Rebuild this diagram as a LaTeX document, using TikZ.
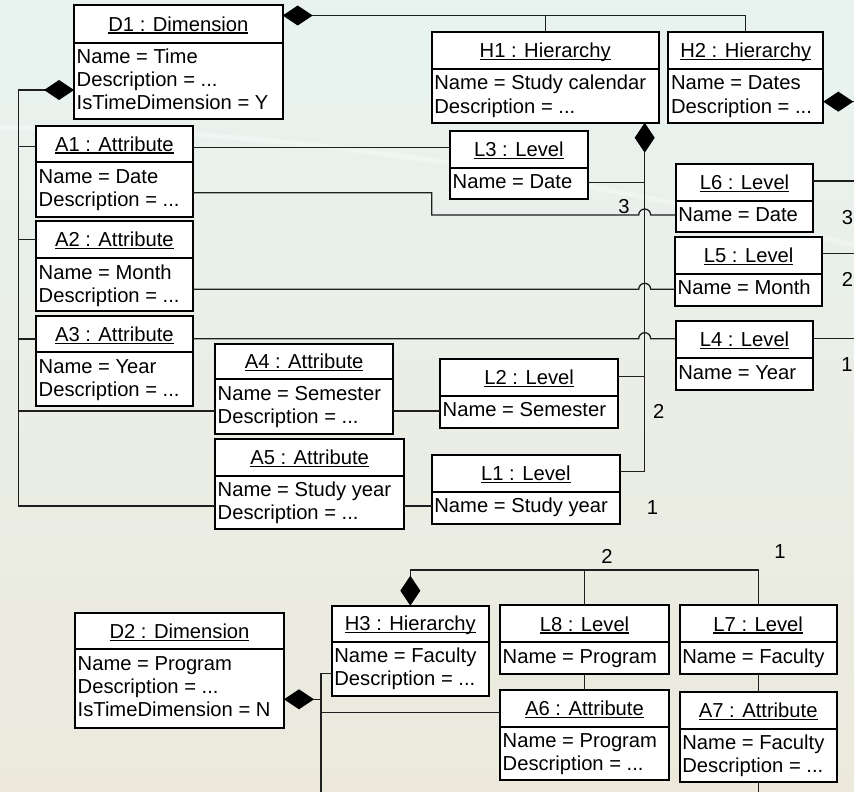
\documentclass[tikz,border=0pt]{standalone}
\usepackage{fontspec}
\setmainfont{Liberation Sans}
\usetikzlibrary{fit,arrows.meta}

\definecolor{bgtop}{RGB}{232,243,240}
\definecolor{bgmid}{RGB}{245,246,241}
\definecolor{bgbot}{RGB}{236,233,220}

% underlined object name (instance : Class)
\newsavebox\namebox
\newcommand\objname[1]{\sbox\namebox{#1}\rlap{\rule[-2.5pt]{\wd\namebox}{1.4pt}}\usebox\namebox}
% placeholder value
\newcommand\etc{...}

% UML object box: #1 name, #2 left, #3 top, #4 right, #5 divider, #6 bottom, #7 title, #8 attribute lines
\newcommand\objbox[8]{%
  \node[objframe, fit={(#2,#3) (#4,#6)}] (#1) {};
  \draw[objrule] (#2,#5) -- (#4,#5);
  \node[objtitle] at ({(#2+#4)/2},{(#3+#5)/2+7.2}) {\objname{#7}};
  \foreach \txt [count=\k] in {#8}
    \node[objattr] at ({#2+2.5},{#5+20.7+(\k-1)*23.3}) {\txt};
}

\tikzset{
  objframe/.style={draw=black, fill=white, line width=2pt, inner sep=0pt, outer sep=0pt},
  objrule/.style={draw=black, line width=2pt},
  objtitle/.style={anchor=base, inner sep=0pt},
  objattr/.style={anchor=base west, inner sep=0pt},
  link/.style={draw=black!88, line width=1.3pt},
  owner/.style={link, {Diamond[length=30pt,width=20pt,color=black]}-},
  ordinal/.style={anchor=base, inner sep=0pt},
}

\begin{document}
\begin{tikzpicture}[x=1pt, y=-1pt, font=\fontsize{20.2}{24}\selectfont]
\useasboundingbox (0,0) rectangle (854,792);
\clip (0,0) rectangle (854,792);

% background
\shade[top color=bgtop, middle color=bgmid, bottom color=bgbot] (0,0) rectangle (854,792);
\draw[white, line width=5pt, opacity=0.3] (0,128) .. controls (220,126) and (520,160) .. (854,245);

% ---- Time dimension ----
\objbox{D1}{74}{5}{282.7}{42.7}{119}{D1 : Dimension}{{Name = Time},{Description = \etc},{IsTimeDimension = Y}}
\objbox{A1}{36}{125.7}{192.7}{162.3}{216.7}{A1 : Attribute}{{Name = Date},{Description = \etc}}
\objbox{A2}{36}{220.7}{192.7}{258.3}{311}{A2 : Attribute}{{Name = Month},{Description = \etc}}
\objbox{A3}{36}{316.3}{192.7}{352.3}{406.3}{A3 : Attribute}{{Name = Year},{Description = \etc}}
\objbox{A4}{215}{343.7}{393.3}{379.3}{433.7}{A4 : Attribute}{{Name = Semester},{Description = \etc}}
\objbox{A5}{215}{438.7}{404.3}{475.7}{528.7}{A5 : Attribute}{{Name = Study year},{Description = \etc}}
\objbox{H1}{431.7}{32.3}{658.7}{69}{122.7}{H1 : Hierarchy}{{Name = Study calendar},{Description = \etc}}
\objbox{H2}{668.3}{32.3}{823.3}{69}{122.7}{H2 : Hierarchy}{{Name = Dates},{Description = \etc}}
\objbox{L3}{450}{130.7}{587.7}{167.7}{199.3}{L3 : Level}{{Name = Date}}
\objbox{L6}{675.7}{163.7}{813.3}{200.7}{232.3}{L6 : Level}{{Name = Date}}
\objbox{L5}{675}{237.3}{822.3}{274}{306}{L5 : Level}{{Name = Month}}
\objbox{L4}{675.7}{321}{813.3}{358.3}{390}{L4 : Level}{{Name = Year}}
\objbox{L2}{440}{359.3}{618.3}{396}{428.3}{L2 : Level}{{Name = Semester}}
\objbox{L1}{431.7}{455}{620}{491.7}{524}{L1 : Level}{{Name = Study year}}

% dimension owns hierarchies
\draw[owner] (D1.east |- 0,15.5) -- (H2.north |- 0,15.5) -- (H2.north);
\draw[link] (H1.north |- 0,15.5) -- (H1.north);

% dimension owns attributes
\draw[owner] (D1.west |- 0,90) -- (18.3,90) -- (18.3,506) -- (A5.west |- 0,506);
\foreach \a/\y in {A1/146.7, A2/239.3, A3/339, A4/411}
  \draw[link] (18.3,\y) -- (\a.west |- 0,\y);

% hierarchy H1 owns levels
\draw[owner] (644.7,0 |- H1.south) -- (644.7,471.7) -- (L1.east |- 0,471.7);
\draw[link] (L3.east |- 0,182.3) -- (644.7,182.3);
\draw[link] (L2.east |- 0,376.7) -- (644.7,376.7);

% attributes to levels
\draw[link] (A1.east |- 0,147.3) -- (L3.west |- 0,147.3);
\draw[link] (A1.east |- 0,192.7) -- (431.7,192.7) -- (431.7,215) -- (638.7,215)
  arc[start angle=180, end angle=360, radius=6] -- (L6.west |- 0,215);
\draw[link] (A2.east |- 0,289.3) -- (638.7,289.3)
  arc[start angle=180, end angle=360, radius=6] -- (L5.west |- 0,289.3);
\draw[link] (A3.east |- 0,338.7) -- (638.7,338.7)
  arc[start angle=180, end angle=360, radius=6] -- (L4.west |- 0,338.7);
\draw[link] (A4.east |- 0,411) -- (L2.west |- 0,411);
\draw[link] (A5.east |- 0,506) -- (L1.west |- 0,506);

% hierarchy H2 owns levels
\draw[owner] (H2.east |- 0,101.7) -- (880,101.7);
\draw[link] (L6.east |- 0,181) -- (880,181);
\draw[link] (L5.east |- 0,253.3) -- (880,253.3);
\draw[link] (L4.east |- 0,338.3) -- (880,338.3);

% level order numbers
\node[ordinal] (n3a) at (624,213) {3};
\node[ordinal] (n2a) at (658.7,418.3) {2};
\node[ordinal] (n1a) at (652.5,514) {1};
\node[ordinal] (n3b) at (847.5,224) {3};
\node[ordinal] (n2b) at (847.5,286.7) {2};
\node[ordinal] (n1b) at (847,371.7) {1};

% ---- Program dimension ----
\objbox{D2}{75}{613.3}{284}{649.3}{728.3}{D2 : Dimension}{{Name = Program},{Description = \etc},{IsTimeDimension = N}}
\objbox{H3}{331.7}{605.7}{489}{641.7}{696}{H3 : Hierarchy}{{Name = Faculty},{Description = \etc}}
\objbox{L8}{500}{605.3}{669}{642.3}{674}{L8 : Level}{{Name = Program}}
\objbox{L7}{679.7}{605.3}{836.7}{642.3}{674}{L7 : Level}{{Name = Faculty}}
\objbox{A6}{500}{689.7}{669}{726.7}{780}{A6 : Attribute}{{Name = Program},{Description = \etc}}
\objbox{A7}{679.7}{692}{836.7}{728.7}{781.7}{A7 : Attribute}{{Name = Faculty},{Description = \etc}}

\draw[owner] (D2.east |- 0,699.3) -- (321,699.3);
\draw[link] (H3.west |- 0,673.3) -- (321,673.3) -- (321,800);
\draw[link] (321,712.3) -- (A6.west |- 0,712.3);

\draw[owner] (H3.north) -- (H3.north |- 0,570) -- (L7.north |- 0,570) -- (L7.north);
\draw[link] (L8.north |- 0,570) -- (L8.north);
\draw[link] (L8.south) -- (A6.north);
\draw[link] (L7.south) -- (A7.north);
\draw[link] (A7.south) -- ++(0,20);

\node[ordinal] (n2c) at (607,563.3) {2};
\node[ordinal] (n1c) at (780,558.3) {1};
\end{tikzpicture}
\end{document}
